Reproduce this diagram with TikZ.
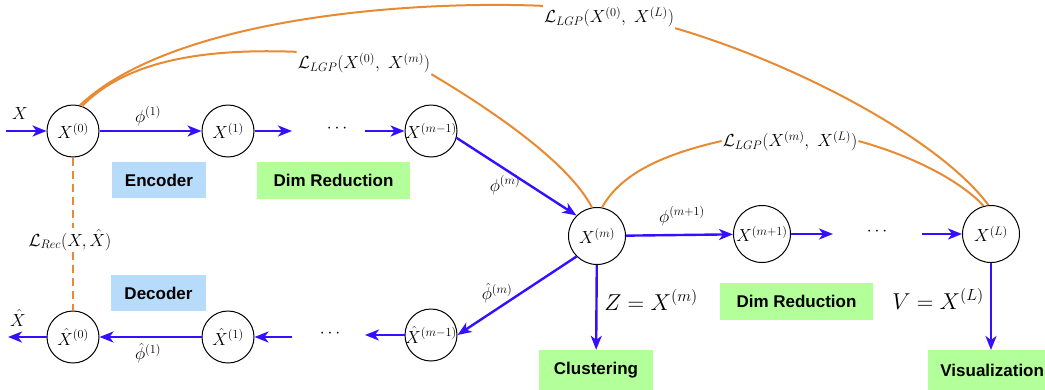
\RequirePackage{fix-cm}
\documentclass[tikz,border=0pt]{standalone}
\usepackage{fontspec}
\newfontfamily\boxfont{Liberation Sans}
\usetikzlibrary{arrows.meta}
\definecolor{arrblue}{RGB}{51,17,255}
\definecolor{lgporange}{RGB}{232,138,51}
\definecolor{boxgreen}{RGB}{179,255,153}
\definecolor{boxblue}{RGB}{183,219,250}
\begin{document}
\begin{tikzpicture}[x=1pt,y=-1pt,
  state/.style={circle,draw=black,line width=1pt,inner sep=0pt,minimum size=#1,font=\fontsize{17.5}{20}\selectfont},
  state/.default=52pt,
  flow/.style={draw=arrblue,line width=2.4pt,-{Stealth[length=14pt,width=11pt,inset=4pt]}},
  loss/.style={draw=lgporange,line width=2pt},
  lossdash/.style={draw=lgporange,line width=2.4pt,dash pattern=on 8pt off 5pt},
  mlab/.style={inner sep=1pt,font=\fontsize{17.5}{20}\selectfont},
  llab/.style={inner sep=1pt,font=\fontsize{17.5}{20}\selectfont},
  biglab/.style={inner sep=1pt,font=\fontsize{23}{27}\selectfont},
  tbox/.style={rectangle,inner sep=0pt,fill=#1,font=\boxfont\bfseries\fontsize{17}{20}\selectfont},
]
\useasboundingbox (0,0) rectangle (1045,389);

% encoder row
\node[state] (x0) at (73,131) {\makebox[0pt]{$X^{(0)}$}};
\node[state] (x1) at (228,131) {\makebox[0pt]{$X^{(1)}$}};
\node[state] (xm1) at (431,131) {\makebox[0pt]{$X^{(m-1)}$}};
\node[state=57pt] (xm) at (597,236) {\makebox[0pt]{$X^{(m)}$}};
\node[state=57pt] (xmp) at (762,234) {\makebox[0pt]{$X^{(m+1)}$}};
\node[state=57pt] (xL) at (991,234) {\makebox[0pt]{$X^{(L)}$}};
% decoder row
\node[state] (h0) at (73,337) {\makebox[0pt]{$\hat{X}^{(0)}$}};
\node[state] (h1) at (228,337) {\makebox[0pt]{$\hat{X}^{(1)}$}};
\node[state] (hm1) at (431,335) {\makebox[0pt]{$\hat{X}^{(m-1)}$}};

% dots
\node[mlab] (d1) at (337,129) {$\cdots$};
\node[mlab] (d2) at (330,334) {$\cdots$};
\node[mlab] (d3) at (877,232) {$\cdots$};

% free ends
\coordinate (in) at (6,131);
\coordinate (out) at (8,337);
\coordinate (a1e) at (292,131);
\coordinate (a2s) at (365,131);
\coordinate (b1s) at (292,337);
\coordinate (b2e) at (365,335);
\coordinate (c1e) at (833,234);
\coordinate (c2s) at (922,234);

% boxes
\node[tbox=boxblue,minimum width=94pt,minimum height=36pt] (enc) at (159,180) {Encoder};
\node[tbox=boxgreen,minimum width=153pt,minimum height=37pt] (dimt) at (333.5,180.5) {Dim Reduction};
\node[tbox=boxblue,minimum width=95pt,minimum height=36pt] (dec) at (158.5,293) {Decoder};
\node[tbox=boxgreen,minimum width=153pt,minimum height=37pt] (dimb) at (796.5,301.5) {Dim Reduction};
\node[tbox=boxgreen,minimum width=114pt,minimum height=40pt] (clust) at (596,370) {Clustering};
\node[tbox=boxgreen,minimum width=128pt,minimum height=40pt,anchor=north west] (vis) at (928,350) {Visualization};

% labels
\node[mlab] (lx) at (20,114) {$X$};
\node[mlab] (lxh) at (18,318) {$\hat{X}$};
\node[mlab] (lphi1) at (148,116) {$\phi^{(1)}$};
\node[mlab] (lphih1) at (148,353) {$\hat{\phi}^{(1)}$};
\node[mlab] (lphim) at (505,185) {$\phi^{(m)}$};
\node[mlab] (lphihm) at (497,293) {$\hat{\phi}^{(m)}$};
\node[mlab] (lphimp) at (682,216) {$\phi^{(m+1)}$};
\node[biglab] (lz) at (651,300) {$Z=X^{(m)}$};
\node[biglab] (lv) at (938,299) {$V=X^{(L)}$};
\node[llab] (lrec) at (70,240) {$\mathcal{L}_{Rec}(X,\hat{X})$};
\node[llab] (l0L) at (609,17) {$\mathcal{L}_{LGP}(X^{(0)},\ X^{(L)})$};
\node[llab] (l0m) at (364,63) {$\mathcal{L}_{LGP}(X^{(0)},\ X^{(m)})$};
\node[llab] (lmL) at (790,141) {$\mathcal{L}_{LGP}(X^{(m)},\ X^{(L)})$};

% blue arrows
\draw[flow] (in) -- (x0);
\draw[flow] (x0) -- (x1);
\draw[flow] (x1) -- (a1e);
\draw[flow] (a2s) -- (xm1);
\draw[flow] (xm1.-15) -- (xm.135);
\draw[flow] (xm) -- (xmp);
\draw[flow] (xmp) -- (c1e);
\draw[flow] (c2s) -- (xL);
\draw[flow] (xm.225) -- (hm1.east);
\draw[flow] (hm1) -- (b2e);
\draw[flow] (b1s) -- (h1);
\draw[flow] (h1) -- (h0);
\draw[flow] (h0) -- (out);
\draw[flow] (xm) -- (clust);
\draw[flow] (xL.south) -- (xL.south |- vis.north);

% reconstruction loss
\draw[lossdash] (x0.south) -- (x0.south |- lrec.north);
\draw[lossdash] (h0.north |- lrec.south) -- (h0.north);

% LGP losses
\draw[loss] (x0.75) .. controls (170,20) and (400,0) .. (l0L.north west);
\draw[loss] (l0L.south east) .. controls (800,65) and (940,140) .. (xL.95);
\draw[loss] (x0.70) .. controls (125,62) and (200,48) .. (l0m.north west);
\draw[loss] (l0m.south east) .. controls (500,115) and (570,165) .. (xm.100);
\draw[loss] (xm.80) .. controls (620,175) and (660,155) .. (lmL.west);
\draw[loss] (lmL.east) .. controls (920,158) and (965,185) .. (xL.105);
\end{tikzpicture}
\end{document}
